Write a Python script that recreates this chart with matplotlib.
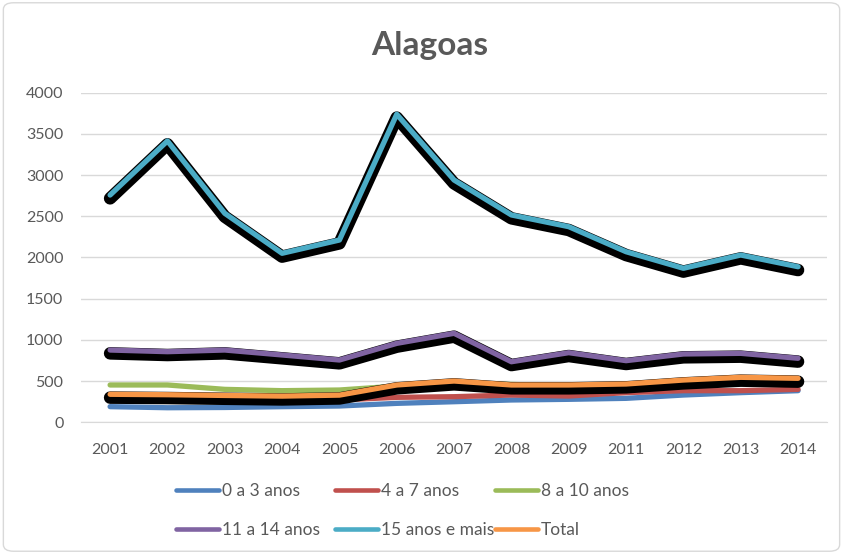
import matplotlib
matplotlib.use("Agg")
import matplotlib.pyplot as plt
import matplotlib.patheffects as pe
from matplotlib.patches import FancyBboxPatch
from matplotlib.lines import Line2D

years = ["2001", "2002", "2003", "2004", "2005", "2006", "2007",
         "2008", "2009", "2011", "2012", "2013", "2014"]
s_0a3 = [190, 177, 180, 190, 198, 230, 250, 271, 279, 291, 331, 360, 384]
s_4a7 = [279, 271, 271, 264, 271, 303, 311, 331, 319, 360, 384, 384, 400]
s_8a10 = [453, 453, 400, 384, 392, 440, 470, 460, 440, 450, 490, 520, 475]
s_11a14 = [877, 857, 877, 817, 756, 958, 1080, 735, 845, 748, 829, 837, 777]
s_15mais = [2758, 3414, 2536, 2051, 2212, 3738, 2940, 2516, 2374, 2070, 1869, 2030, 1888]
s_total = [340, 335, 326, 318, 330, 453, 501, 453, 453, 465, 513, 546, 534]

labels = ["0 a 3 anos", "4 a 7 anos", "8 a 10 anos",
          "11 a 14 anos", "15 anos e mais", "Total"]
colors = ["#4F81BD", "#C0504D", "#9BBB59", "#8064A2", "#4BACC6", "#F79646"]
series = [s_0a3, s_4a7, s_8a10, s_11a14, s_15mais, s_total]
shadowed = [False, False, False, True, True, True]

plt.rcParams['font.family'] = ['Lato', 'DejaVu Sans']
fig = plt.figure(figsize=(8.43, 5.54), dpi=100)
ax = fig.add_axes([0.0966, 0.2377, 0.8841, 0.595])

x = list(range(len(years)))
for vals, lab, col, sh in zip(series, labels, colors, shadowed):
    line, = ax.plot(x, vals, color=col, lw=3.8, label=lab,
                    solid_capstyle='round', solid_joinstyle='round', zorder=3)
    if sh:
        line.set_path_effects([
            pe.SimpleLineShadow(offset=(0, -2.4), shadow_color='black', alpha=1.0,
                                rho=0, linewidth=9, capstyle='round', joinstyle='round'),
            pe.Normal()])

ax.set_xlim(-0.5, len(years) - 0.5)
ax.set_ylim(0, 4000)
ax.set_yticks(range(0, 4001, 500))
ax.set_xticks(x)
ax.set_xticklabels(years)
ax.yaxis.grid(True, color='#D9D9D9', lw=1)
ax.set_axisbelow(True)
for s in ['top', 'right', 'left']:
    ax.spines[s].set_visible(False)
ax.spines['bottom'].set_color('#D9D9D9')
ax.tick_params(axis='both', length=0, labelsize=11.5, labelcolor='#595959')
ax.tick_params(axis='x', pad=15)
ax.tick_params(axis='y', pad=13)

fig.text(0.51, 0.917, "Alagoas", ha='center', va='center', fontsize=24,
         fontweight='bold', color='#595959')

# legend: three fixed-position columns, row-major order like the reference
col_x = [0.2088, 0.3974, 0.5872]
for c in range(3):
    idx = [c, c + 3]
    hs = [Line2D([0], [0], color=colors[i], lw=3.3, solid_capstyle='round') for i in idx]
    leg = fig.legend(hs, [labels[i] for i in idx], loc='center left',
                     bbox_to_anchor=(col_x[c], 0.0785), ncol=1, frameon=False,
                     fontsize=12.5, handlelength=2.5, handletextpad=0.15,
                     labelspacing=1.3, borderpad=0, borderaxespad=0)
    for t in leg.get_texts():
        t.set_color('#595959')

border = FancyBboxPatch((0.004, 0.005), 0.992, 0.99, boxstyle="round,pad=0,rounding_size=0.012",
                        transform=fig.transFigure, fill=False, edgecolor='#D9D9D9', lw=1)
fig.patches.append(border)

fig.savefig("out.png", dpi=100)
